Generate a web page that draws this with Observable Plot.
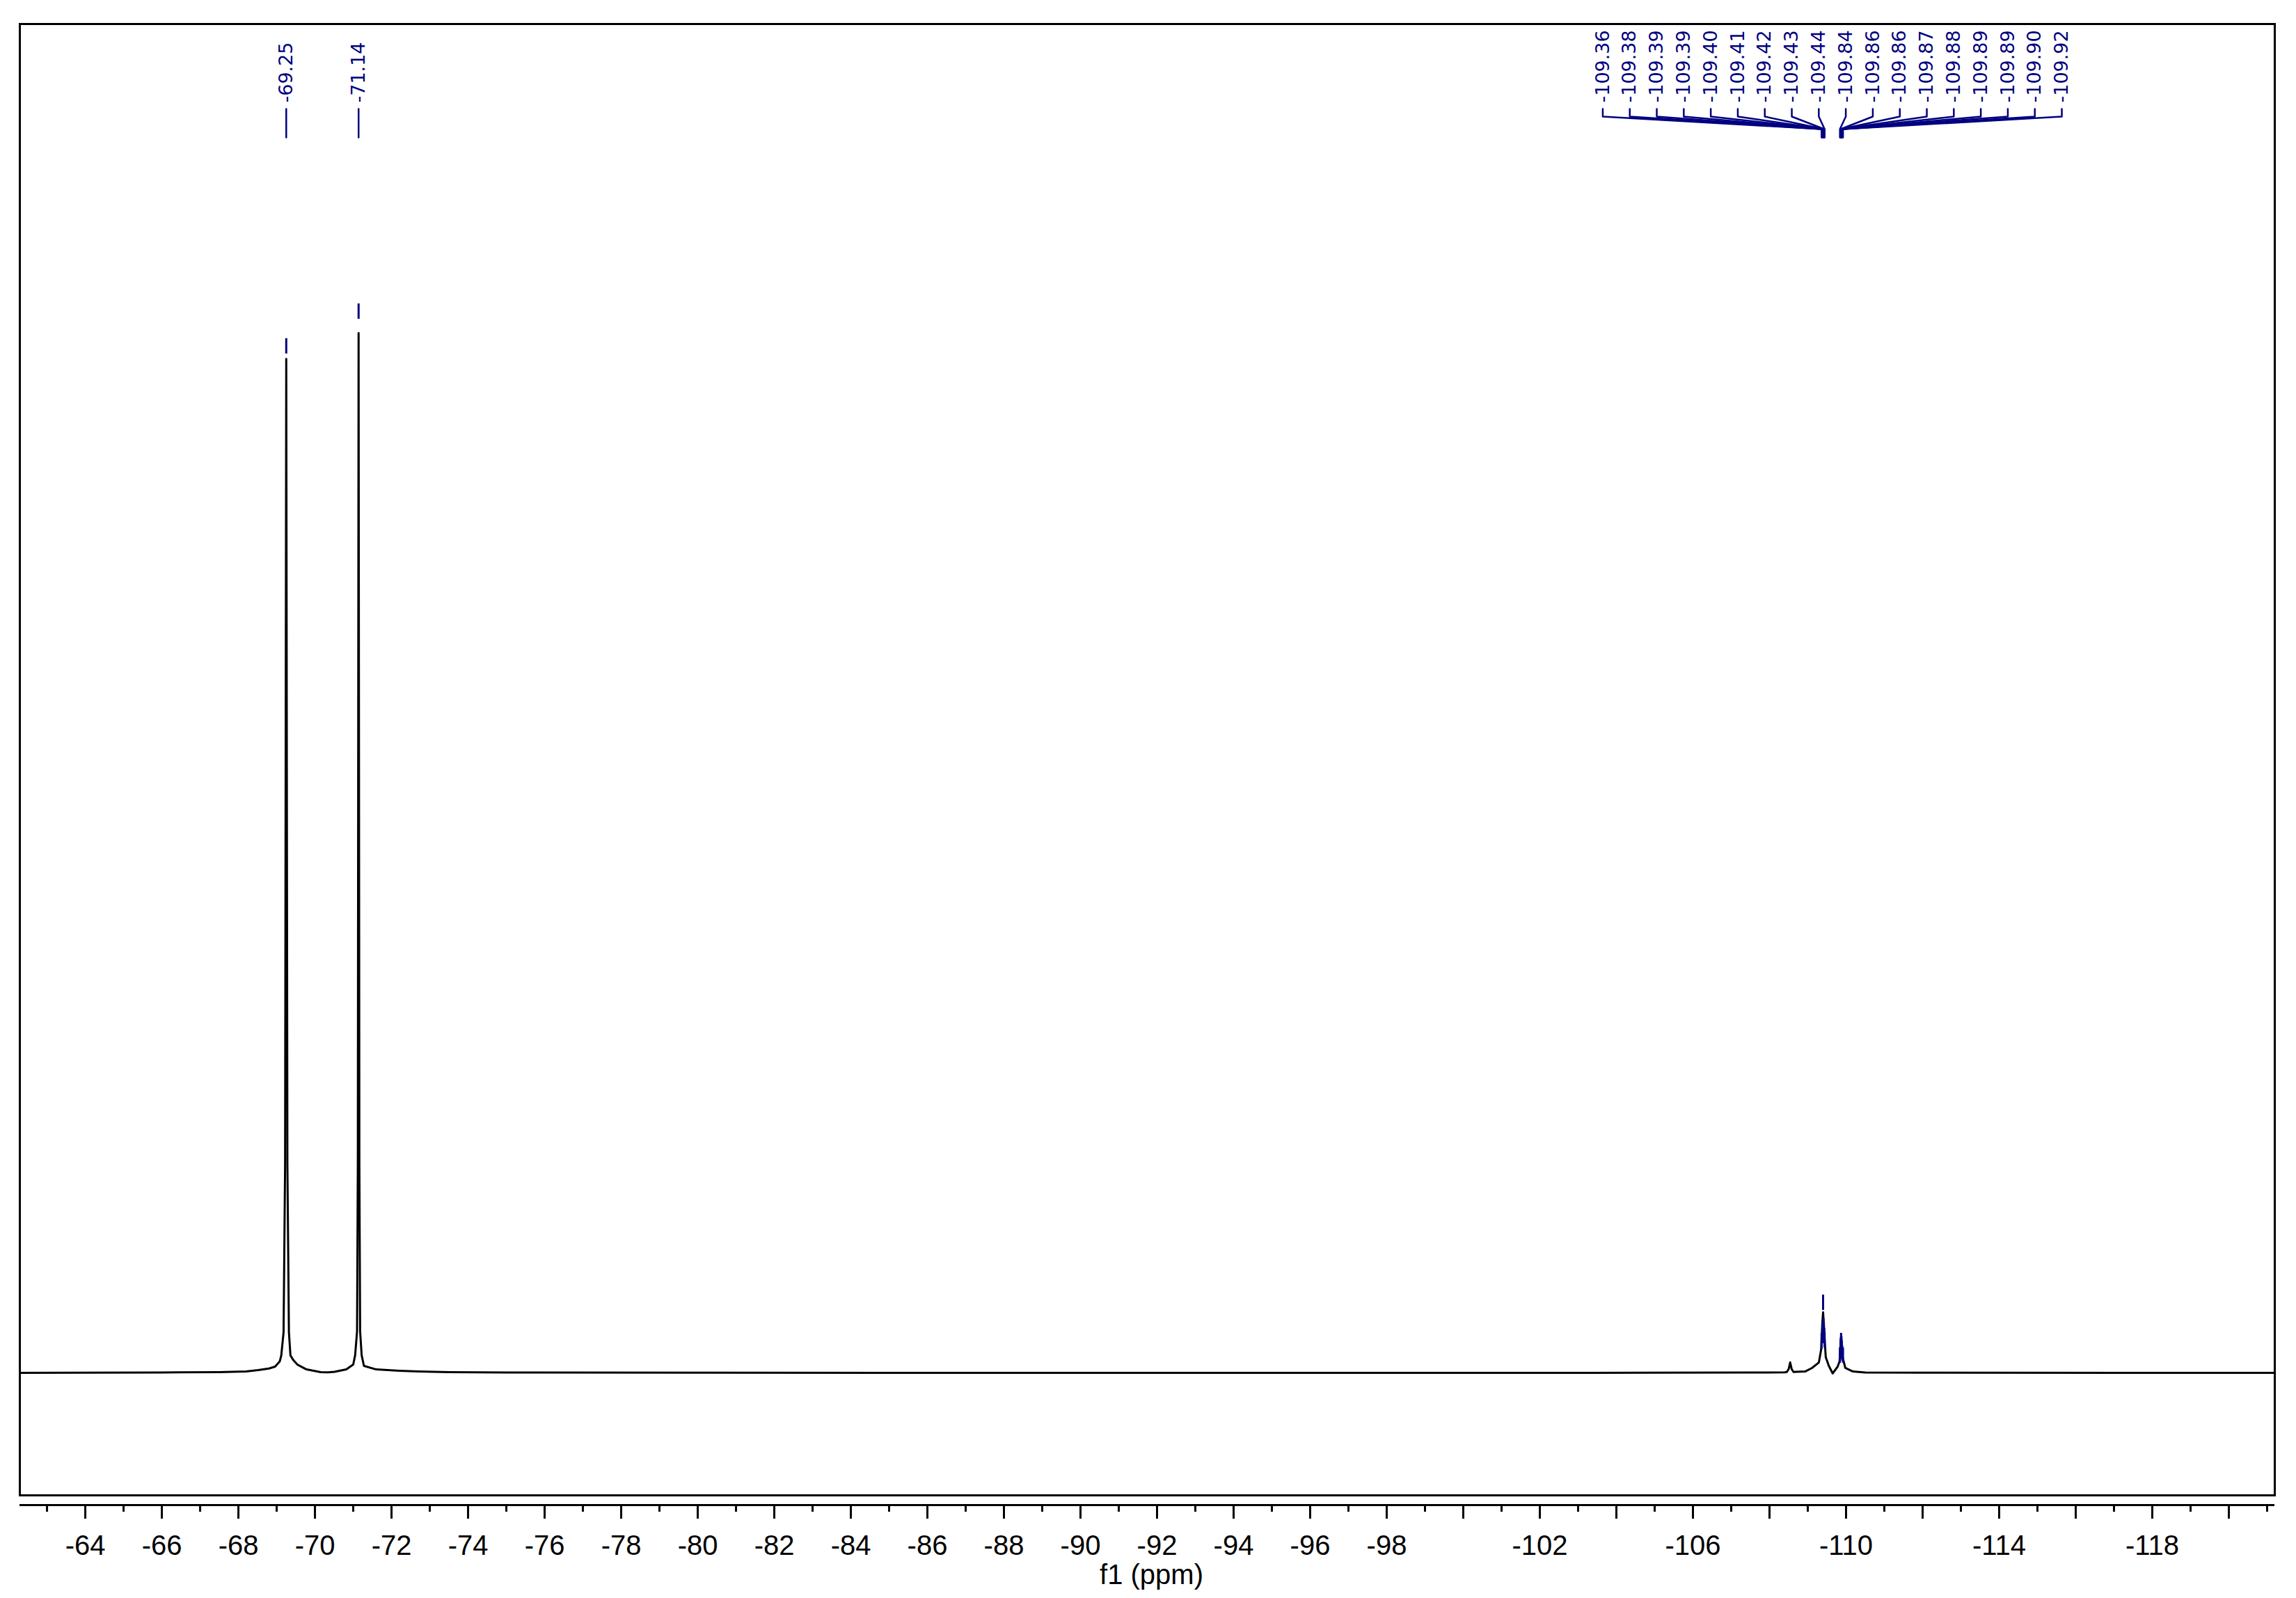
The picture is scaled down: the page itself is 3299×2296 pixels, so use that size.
<!DOCTYPE html>
<html><head><meta charset="utf-8">
<script src="https://cdn.jsdelivr.net/npm/d3@7"></script>
<script src="https://cdn.jsdelivr.net/npm/@observablehq/plot@0.6"></script>
<style>html,body{margin:0;padding:0;background:#fff;overflow:hidden;}</style>
</head><body><div id="chart"></div>
<script>
// Spectrum trace (ppm, relative intensity; tallest peak = 100)
const specPpm = [-62.29,-64.0,-66.0,-67.5,-68.2,-68.52,-68.80,-68.96,-69.08,-69.12,-69.18,-69.22,-69.25,-69.28,-69.32,-69.36,-69.44,-69.54,-69.78,-70.15,-70.35,-70.51,-70.82,-71.00,-71.05,-71.10,-71.12,-71.14,-71.16,-71.18,-71.22,-71.28,-71.60,-72.20,-72.70,-73.50,-75.0,-80.0,-90.0,-100.0,-105.0,-107.5,-108.40,-108.45,-108.50,-108.54,-108.58,-108.63,-108.70,-108.93,-109.11,-109.29,-109.35,-109.38,-109.40,-109.42,-109.44,-109.47,-109.55,-109.65,-109.78,-109.83,-109.85,-109.87,-109.89,-109.91,-109.98,-110.18,-110.5,-112.0,-121.2];
const specInt = [0,0.02,0.04,0.07,0.13,0.27,0.42,0.6,1.1,1.67,3.9,20,97.5,20,3.9,1.67,1.2,0.8,0.33,0.07,0.05,0.1,0.33,0.8,1.7,4,20,100,20,4,1.7,0.67,0.33,0.2,0.13,0.06,0.03,0.01,0,0,0.01,0.03,0.05,0.08,0.35,1.0,0.35,0.08,0.1,0.13,0.47,1.0,2.28,4.8,5.82,4.6,3.2,1.5,0.67,-0.05,0.6,1.1,2.4,3.6,2.4,1.5,0.47,0.13,0.03,0.01,0];

// Peak picks and the height of their markers
const peakLabels = ["-69.25","-71.14","-109.36","-109.38","-109.39","-109.39","-109.40","-109.41","-109.42","-109.43","-109.44","-109.84","-109.86","-109.86","-109.87","-109.88","-109.89","-109.89","-109.90","-109.92"];
const markerInt = [98.0,101.34,2.28,2.81,3.15,3.48,6.02,3.75,3.35,2.81,2.41,0.94,1.47,1.81,2.34,2.01,1.61,1.34,1.14,0.94];

// Axis
const majorTicks = [-64,-66,-68,-70,-72,-74,-76,-78,-80,-82,-84,-86,-88,-90,-92,-94,-96,-98,-100,-102,-104,-106,-108,-110,-112,-114,-116,-118,-120];
const minorTicks = [-63,-65,-67,-69,-71,-73,-75,-77,-79,-81,-83,-85,-87,-89,-91,-93,-95,-97,-99,-101,-103,-105,-107,-109,-111,-113,-115,-117,-119,-121];
const tickLabels = [-64,-66,-68,-70,-72,-74,-76,-78,-80,-82,-84,-86,-88,-90,-92,-94,-96,-98,-102,-106,-110,-114,-118];
const xTitle = "f1 (ppm)";

// Layout
const W = 3299, H = 2296, mL = 28, mR = 31, mT = 34, mB = 148;
const xDomain = [-62.29, -121.2], yDomain = [-11.78, 129.72];
const xs = d3.scaleLinear(xDomain, [mL, W - mR]);
const ys = d3.scaleLinear(yDomain, [H - mB, mT]);
const yAt = px => ys.invert(px);
const pxPerUnit = (H - mB - mT) / (yDomain[1] - yDomain[0]);
const navy = "#000080";

const spectrum = specPpm.map((p, i) => ({ppm: p, int: specInt[i]}));

// label placement: spread crowded labels evenly around group centre
const spacing = 38.8;
const picks = peakLabels.map((s, i) => ({label: s, ppm: +s, px: xs(+s), mk: markerInt[i], i}));
const groups = [];
let cur = [picks[0]];
for (let i = 1; i < picks.length; i++) {
  if (picks[i].px - cur[cur.length - 1].px < spacing) cur.push(picks[i]);
  else { groups.push(cur); cur = [picks[i]]; }
}
groups.push(cur);
for (const g of groups) {
  const c = d3.mean(g, d => d.px);
  g.forEach((d, j) => { d.lx = c + (j - (g.length - 1) / 2) * spacing; d.lppm = xs.invert(d.lx); });
}
const connectors = [];
for (const d of picks) {
  connectors.push({x: d.lppm, y: yAt(156), z: d.i});
  connectors.push({x: d.lppm, y: yAt(167), z: d.i});
  connectors.push({x: d.ppm, y: yAt(185), z: d.i});
  connectors.push({x: d.ppm, y: yAt(197), z: d.i});
}

const chart = Plot.plot({
  width: W, height: H,
  marginLeft: mL, marginRight: mR, marginTop: mT, marginBottom: mB,
  style: {background: "white", fontFamily: "Liberation Sans, Arial, sans-serif"},
  x: {domain: xDomain, axis: null},
  y: {domain: yDomain, axis: null},
  marks: [
    Plot.frame({stroke: "black", strokeWidth: 3}),
    Plot.line(spectrum, {x: "ppm", y: "int", stroke: "black", strokeWidth: 3}),
    Plot.ruleX(picks, {x: "ppm", y1: "mk", y2: d => d.mk + 22 / pxPerUnit, stroke: navy, strokeWidth: 3}),
    Plot.line(connectors, {x: "x", y: "y", z: "z", stroke: navy, strokeWidth: 2.5, curve: "linear"}),
    Plot.text(picks, {x: "lppm", text: "label", frameAnchor: "top", dy: 113, rotate: -90,
      textAnchor: "start", lineAnchor: "middle", fontSize: 27, fontFamily: "DejaVu Sans", fill: navy}),
    Plot.ruleY([yDomain[0]], {dy: 14, stroke: "black", strokeWidth: 3}),
    Plot.axisX(majorTicks, {anchor: "bottom", tickSize: 20, tickPadding: 23, dy: 14, strokeWidth: 3,
      tickFormat: d => tickLabels.includes(d) ? String(d) : "", fontSize: 40,
      fontFamily: "Liberation Sans", fill: "black", label: null}),
    Plot.axisX(minorTicks, {anchor: "bottom", tickSize: 10, dy: 14, strokeWidth: 3,
      tickFormat: () => "", label: null}),
    Plot.text([xTitle], {frameAnchor: "bottom", dy: 115, dx: 6, fontSize: 40,
      fontFamily: "Liberation Sans", lineAnchor: "middle", fill: "black"})
  ]
});
document.getElementById("chart").appendChild(chart);
</script>
</body></html>
